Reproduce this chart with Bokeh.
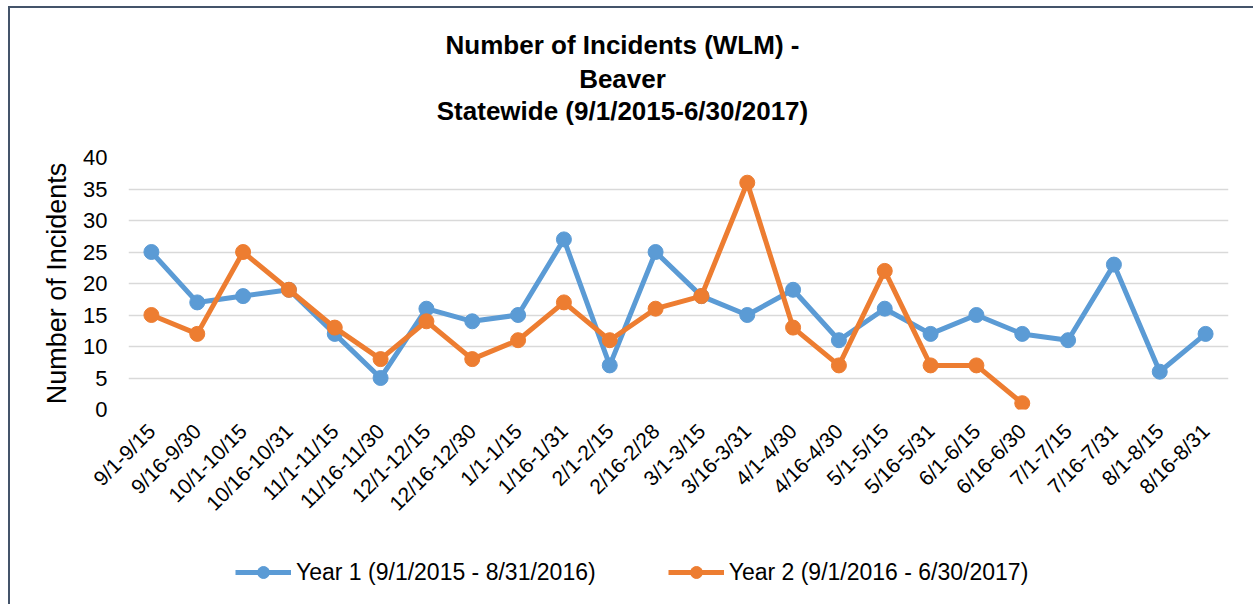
import math
from bokeh.plotting import figure
from bokeh.models import (Label, Legend, LegendItem, FactorRange, Range1d,
                          FixedTicker)
from bokeh.layouts import column
from bokeh.embed import file_html
from bokeh.resources import INLINE

# ---------------- data ----------------
periods = ["9/1-9/15", "9/16-9/30", "10/1-10/15", "10/16-10/31",
           "11/1-11/15", "11/16-11/30", "12/1-12/15", "12/16-12/30",
           "1/1-1/15", "1/16-1/31", "2/1-2/15", "2/16-2/28",
           "3/1-3/15", "3/16-3/31", "4/1-4/30", "4/16-4/30",
           "5/1-5/15", "5/16-5/31", "6/1-6/15", "6/16-6/30",
           "7/1-7/15", "7/16-7/31", "8/1-8/15", "8/16-8/31"]
year1 = [25, 17, 18, 19, 12, 5, 16, 14, 15, 27, 7, 25,
         18, 15, 19, 11, 16, 12, 15, 12, 11, 23, 6, 12]
year2 = [15, 12, 25, 19, 13, 8, 14, 8, 11, 17, 11, 16,
         18, 36, 13, 7, 22, 7, 7, 1]
series_names = ["Year 1 (9/1/2015 - 8/31/2016)",
                "Year 2 (9/1/2016 - 6/30/2017)"]
title_lines = ["Number of Incidents (WLM) -", "Beaver",
               "Statewide (9/1/2015-6/30/2017)"]
y_label = "Number of Incidents"
y_ticks = [0, 5, 10, 15, 20, 25, 30, 35, 40]

BLUE = "#5B9BD5"
ORANGE = "#ED7D31"
FRAME_COLOR = "#44546A"
FONT = "Liberation Sans"

W = 1253
H_TITLE, H_MAIN, H_LEG = 135, 410, 59


def blank_panel(h):
    f = figure(width=W, height=h, x_range=Range1d(128, 1228),
               y_range=Range1d(0, h),
               x_axis_type=None, y_axis_type=None,
               output_backend="svg", toolbar_location=None, min_border=0)
    f.grid.visible = False
    f.outline_line_color = None
    f.background_fill_alpha = 0
    f.border_fill_alpha = 0
    return f


# ---------------- title panel ----------------
pt = blank_panel(H_TITLE)
for txt, yy in zip(title_lines, (91, 57, 25)):
    pt.add_layout(Label(x=622, y=yy, text=txt, text_align="center",
                        text_baseline="alphabetic",
                        text_font=FONT, text_font_size="26px",
                        text_font_style="bold", text_color="black"))

# ---------------- main chart ----------------
p = figure(width=W, height=H_MAIN,
           x_range=FactorRange(factors=periods, range_padding=0),
           y_range=Range1d(0, 40),
           output_backend="svg", toolbar_location=None,
           min_border_left=128, min_border_right=25,
           min_border_top=22, min_border_bottom=136)
p.outline_line_color = None
p.background_fill_color = "white"
p.border_fill_alpha = 0

p.xgrid.visible = False
p.ygrid.grid_line_color = "#D9D9D9"
p.ygrid.grid_line_width = 1.5

for ax in (p.xaxis[0], p.yaxis[0]):
    ax.axis_line_color = None
    ax.major_tick_line_color = None
    ax.minor_tick_line_color = None
    ax.major_label_text_font = FONT
    ax.major_label_text_color = "black"

p.yaxis.ticker = FixedTicker(ticks=y_ticks)
p.yaxis.major_label_text_font_size = "22px"
p.yaxis.major_label_standoff = 15
p.yaxis.axis_label = y_label
p.yaxis.axis_label_text_font = FONT
p.yaxis.axis_label_text_font_size = "27px"
p.yaxis.axis_label_text_font_style = "normal"
p.yaxis.axis_label_text_color = "black"
p.yaxis.axis_label_standoff = 8

p.xaxis.major_label_orientation = math.pi / 4
p.xaxis.major_label_text_font_size = "21px"
p.xaxis.major_label_standoff = 12

x1 = periods[:len(year1)]
x2 = periods[:len(year2)]
p.line(x1, year1, line_color=BLUE, line_width=5)
p.scatter(x1, year1, size=15, fill_color=BLUE, line_color=BLUE)
p.line(x2, year2, line_color=ORANGE, line_width=5)
p.scatter(x2, year2, size=15, fill_color=ORANGE, line_color=ORANGE)

# ---------------- legend panel ----------------
pl = blank_panel(H_LEG)
items = []
for name, col, ys in zip(series_names, (BLUE, ORANGE), (year1, year2)):
    xs = list(range(len(ys)))
    lr = pl.line(xs, ys, line_color=col, line_width=5, visible=False)
    sr = pl.scatter(xs, ys, size=15, fill_color=col, line_color=col,
                    visible=False)
    items.append(LegendItem(label=name, renderers=[lr, sr]))
lg = Legend(items=items, location=(107, 17), orientation="horizontal",
            padding=0, margin=0, spacing=72,
            glyph_width=56, glyph_height=30, label_height=30,
            label_standoff=5,
            label_text_font=FONT, label_text_font_size="23px",
            label_text_color="black",
            inactive_fill_alpha=0,
            border_line_color=None, background_fill_alpha=0)
pl.add_layout(lg, "center")

layout = column(pt, p, pl, spacing=0)
layout.styles = {
    "background": (f"linear-gradient({FRAME_COLOR},{FRAME_COLOR}) 8px 6px / 2px 100% no-repeat, "
                   f"linear-gradient({FRAME_COLOR},{FRAME_COLOR}) 8px 6px / 100% 2px no-repeat, "
                   "white")
}

open("out.html", "w").write(file_html(layout, INLINE))
